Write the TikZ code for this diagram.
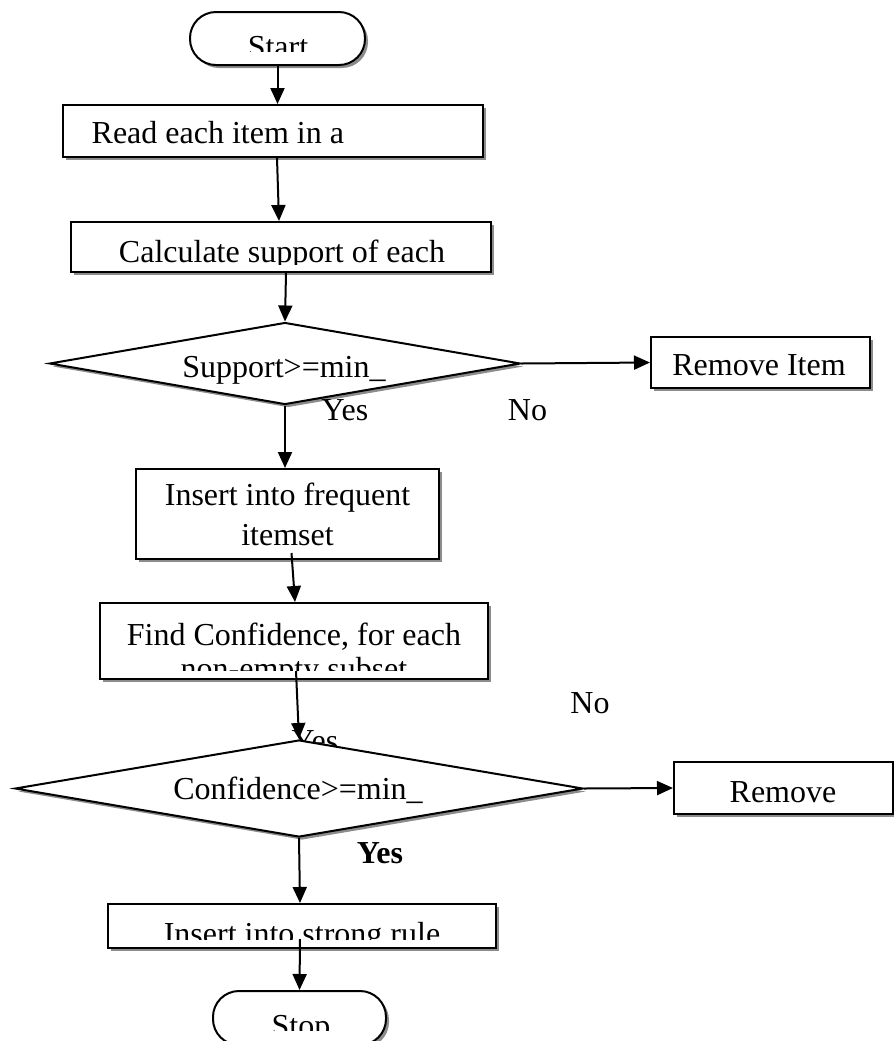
\documentclass[tikz,border=0pt]{standalone}
\usepackage{fontspec}
\setmainfont{Liberation Serif}
\usetikzlibrary{shapes.geometric,shadows,arrows.meta}

\newcommand{\fs}{\fontsize{16}{20}\selectfont}
% text cut off above the lower edge of its box
\newcommand{\cuttext}[5]{%
  \begin{scope}
    \clip (#1.north west) rectangle ([yshift=#2]#1.south east);
    \node[anchor=base] (#5) at #3 {#4};
  \end{scope}}

\tikzset{
  boxshadow/.style={drop shadow={shadow xshift=1.5pt, shadow yshift=-1.5pt, fill=black, opacity=0.45}},
  procbox/.style={draw, fill=white, rectangle, inner sep=0pt, boxshadow},
  termbox/.style={procbox, rounded corners=13pt},
  decbox/.style={draw, fill=white, diamond, inner sep=0pt, boxshadow},
  flow/.style={-{Triangle[length=8pt,width=7pt]}},
}

\begin{document}
\begin{tikzpicture}[x=0.5pt, y=-0.5pt, line width=1pt, font=\fs]
\useasboundingbox (0,0) rectangle (894,1041);
% ── shapes ──────────────────────────────
\node[termbox, minimum width=87.5pt, minimum height=26.5pt] (start) at (277.5,38.5) {};
\node[procbox, minimum width=210pt, minimum height=26pt] (read) at (273,131) {};
\node[procbox, minimum width=210pt, minimum height=25pt] (calc) at (281,247) {};
\node[decbox, minimum width=235.5pt, minimum height=41pt, aspect=5.7] (supp) at (285,363.5) {};
\node[procbox, minimum width=109.5pt, minimum height=25.5pt] (remitem) at (760.5,362.5) {};
\node[procbox, minimum width=151.5pt, minimum height=45pt] (freq) at (287.5,514) {};
\node[procbox, minimum width=194pt, minimum height=38pt] (conf) at (294,641) {};
% label half hidden behind the second diamond
\node[anchor=base] (yes2) at (315,751) {Yes};
\node[decbox, minimum width=284pt, minimum height=48.5pt, aspect=5.9] (confd) at (299,788.5) {};
\node[procbox, minimum width=109.5pt, minimum height=26pt] (rem) at (783.5,788) {};
\node[procbox, minimum width=194pt, minimum height=22pt] (strong) at (302,926) {};
\node[termbox, minimum width=86.5pt, minimum height=27pt] (stop) at (299.5,1018) {};
% ── texts ───────────────────────────────
\cuttext{start}{7.5pt}{(278,57)}{Start}{start-txt}
\node[anchor=base west] (read-txt) at (84,143) {Read each item in a};
\cuttext{calc}{4.5pt}{(282,262)}{Calculate support of each}{calc-txt}
\node[anchor=base] (supp-txt) at (284,377) {Support>=min\_};
\node[anchor=base] (remitem-txt) at (759,375) {Remove Item};
\node[anchor=base] (freq-txt1) at (287.5,505) {Insert into frequent};
\node[anchor=base] (freq-txt2) at (287.5,545) {itemset};
\node[anchor=base] (conf-txt1) at (294,645) {Find Confidence, for each};
\cuttext{conf}{5pt}{(294,679)}{non-empty subset}{conf-txt2}
\node[anchor=base] (confd-txt) at (298,799) {Confidence>=min\_};
\node[anchor=base] (rem-txt) at (783,802) {Remove};
\cuttext{strong}{5pt}{(302,944)}{Insert into strong rule}{strong-txt}
\cuttext{stop}{8pt}{(301,1036)}{Stop}{stop-txt}
% ── connectors ──────────────────────────
\draw[flow] (start.south) -- (start.south |- read.north);
\draw[flow] ([xshift=2pt]read.south) -- ([xshift=-1pt]calc.north);
\draw[flow] ([xshift=2.5pt]calc.south) -- (supp.north);
\draw[flow] (supp.east) -- (remitem.west);
\draw[flow] (supp.south) -- (supp.south |- freq.north);
\draw[flow] ([xshift=2pt,yshift=3.5pt]freq.south) -- ([xshift=0.5pt]conf.north);
\draw[flow] ([xshift=1pt,yshift=4.5pt]conf.south) -- (confd.north);
\draw[flow] (confd.east) -- (rem.west);
\draw[flow] (confd.south) -- ([xshift=-1pt]strong.north);
\draw[flow] ([xshift=-1pt,yshift=5pt]strong.south) -- (stop.north);
% ── branch labels ───────────────────────
\node[anchor=base] (yes1) at (345,420) {Yes};
\node[anchor=base] (no1) at (527.5,420) {No};
\node[anchor=base] (no2) at (590,713) {No};
\node[anchor=base, font=\fs\bfseries] (yes3) at (380,863) {Yes};
\end{tikzpicture}
\end{document}
